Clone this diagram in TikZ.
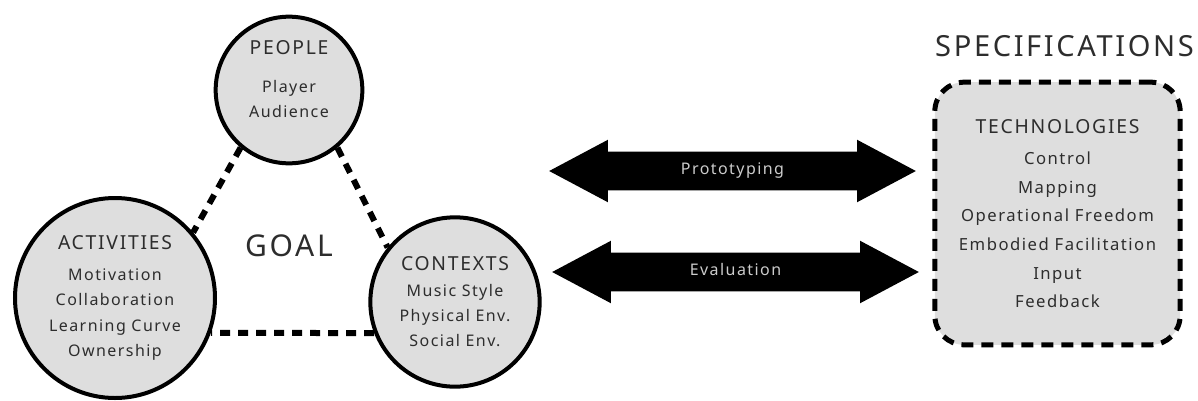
\documentclass[tikz,border=0pt]{standalone}
\usepackage{fontspec}
\setmainfont{Noto Sans}[LetterSpace=9]
\usetikzlibrary{shapes.arrows, positioning}
\definecolor{nodegray}{RGB}{222,222,222}
\definecolor{inkgray}{RGB}{45,45,45}

\tikzset{
  topic/.style={circle, draw=black, line width=3pt, fill=nodegray, inner sep=0pt,
    align=center, text=inkgray, font=\fontsize{12}{19}\selectfont},
  link/.style={line width=4.5pt, dash pattern=on 7.5pt off 6pt},
  flow/.style={double arrow, fill=black, text=white!80!black, minimum height=275pt,
    double arrow head extend=9pt, double arrow tip angle=56, double arrow head indent=0pt,
    inner ysep=9pt, text height=8pt, text depth=2.5pt, font=\fontsize{12}{14}\selectfont},
  specbox/.style={draw=black, line width=3.75pt, dash pattern=on 9pt off 6pt, fill=nodegray,
    rounded corners=22pt, minimum width=184pt, minimum height=197pt, align=center,
    text=inkgray, font=\fontsize{12.5}{21.5}\selectfont}
}
\newcommand{\headtxt}[1]{{\fontsize{14.5}{16}\selectfont #1}}

\begin{document}
\begin{tikzpicture}[x=0.75pt, y=-0.75pt]
  \useasboundingbox (0,0) rectangle (1198,400);

  % the three circles round the goal
  \node[topic, minimum size=110pt] (people) at (289,90)
    {\headtxt{PEOPLE}\\[9pt] Player\\ Audience\rule[-16.5pt]{0pt}{0pt}};
  \node[topic, minimum size=150pt] (activities) at (115,298)
    {\headtxt{ACTIVITIES}\\[4pt] Motivation\\ Collaboration\\ Learning Curve\\ Ownership};
  \node[topic, minimum size=127pt] (contexts) at (455,302)
    {\headtxt{CONTEXTS}\\ Music Style\\ Physical Env.\\ Social Env.};
  \node[text=inkgray, font=\fontsize{22.5}{26}\selectfont] (goal) at (289,246) {GOAL};

  \draw[link] (people.230) -- (activities.40);
  \draw[link] (people.310) -- (contexts.141);
  \draw[link] (contexts.201.4) -- (activities.-20.5);

  % prototyping and evaluation
  \node[flow] (proto) at (732.5,171) {Prototyping};
  \node[flow] (eval) at (735.5,272) {Evaluation};

  % specifications
  \node[text=inkgray, font=\fontsize{21.8}{26}\selectfont] (spec) at (1064.5,46) {SPECIFICATIONS};
  \node[specbox] (tech) at (1057.5,213.5)
    {\headtxt{TECHNOLOGIES}\\[2pt] Control\\ Mapping\\ Operational Freedom\\
     Embodied Facilitation\\ Input\\ Feedback};
\end{tikzpicture}
\end{document}
